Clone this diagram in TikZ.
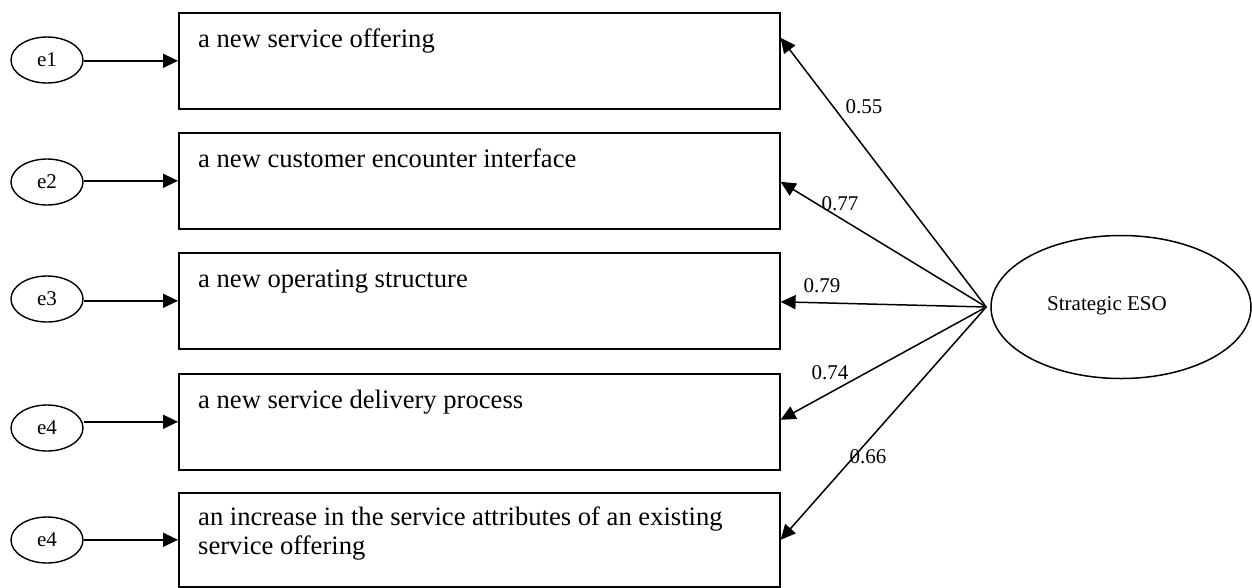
\documentclass[tikz,border=0pt]{standalone}
\usepackage{fontspec}
\setmainfont{Liberation Serif}
\usetikzlibrary{arrows.meta,calc,shapes.geometric}
\begin{document}
\begin{tikzpicture}[x=1pt,y=-1pt,
  box/.style={draw,line width=1.6pt,minimum width=601pt,minimum height=96pt,inner sep=0pt,anchor=north west},
  err/.style={draw,ellipse,line width=1.4pt,minimum width=72pt,minimum height=46pt,inner sep=0pt,font=\fontsize{21}{24}\selectfont},
  btext/.style={anchor=base west,inner sep=0pt,font=\fontsize{26.6}{29}\selectfont,align=left},
  coef/.style={anchor=base,inner sep=0pt,font=\fontsize{21}{24}\selectfont},
  arr/.style={-{Triangle[length=15pt,width=14pt]},line width=1.5pt}]
\useasboundingbox[fill=white] (0,0) rectangle (1252,587);
% boxes
\node[box] (b1) at (178,12) {};
\node[box] (b2) at (178,132) {};
\node[box] (b3) at (178,252) {};
\node[box] (b4) at (178,373) {};
\node[box,minimum height=94pt] (b5) at (178,492) {};
% box texts
\node[btext] (t1) at (198,47) {a new service offering};
\node[btext] (t2) at (198,167) {a new customer encounter interface};
\node[btext] (t3) at (198,287) {a new operating structure};
\node[btext] (t4) at (198,408) {a new service delivery process};
\node[btext] (t5) at (198,554) {an increase in the service attributes of an existing\\service offering};
% error terms
\node[err] (e1) at (47,60) {e1};
\node[err] (e2) at (47,182) {e2};
\node[err] (e3) at (47,299) {e3};
\node[err] (e4a) at (47,428) {e4};
\node[err] (e4b) at (47,540) {e4};
\draw[arr] (e1.east |- b1.west) -- (b1.west);
\draw[arr] (e2.east |- b2.west) -- (b2.west);
\draw[arr] (e3.east |- b3.west) -- (b3.west);
\draw[arr] (e4a.east |- b4.west) -- (b4.west);
\draw[arr] (e4b.east |- b5.west) -- (b5.west);
% latent
\node[draw,ellipse,line width=1.5pt,minimum width=260pt,minimum height=143pt,inner sep=0pt] (eso) at (1121,307) {};
\node[anchor=base,inner sep=0pt,font=\fontsize{21}{24}\selectfont] (esot) at (1107,310) {Strategic ESO};
\coordinate (src) at ($(eso.west)+(-4,0)$);
\draw[arr] (src) -- ($(b1.east)+(0,-23)$);
\draw[arr] (src) -- ($(b2.east)+(0,1)$);
\draw[arr] (src) -- ($(b3.east)+(0,1)$);
\draw[arr] (src) -- ($(b4.east)+(0,-2)$);
\draw[arr] (src) -- (b5.east);
% coefficients
\node[coef] (c1) at (864,113) {0.55};
\node[coef] (c2) at (840,210) {0.77};
\node[coef] (c3) at (822,292) {0.79};
\node[coef] (c4) at (830,379) {0.74};
\node[coef] (c5) at (868,463) {0.66};
\end{tikzpicture}
\end{document}
